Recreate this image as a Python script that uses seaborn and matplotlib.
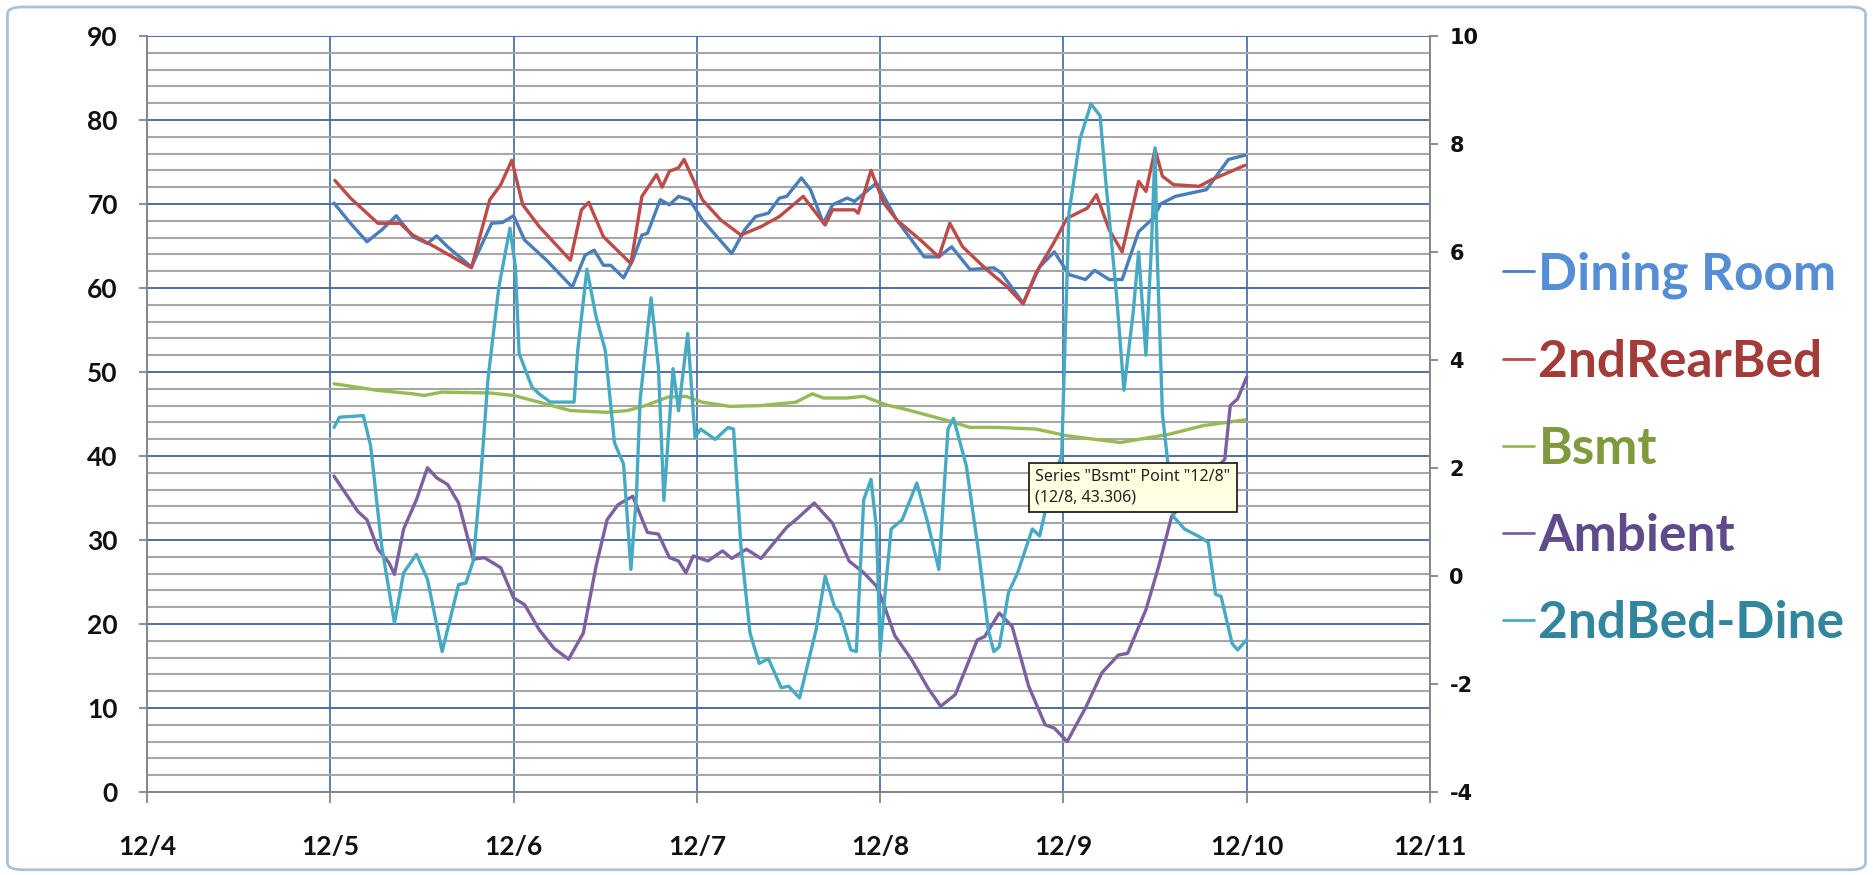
import numpy as np
import pandas as pd
import matplotlib
matplotlib.use("Agg")
import matplotlib.pyplot as plt
from matplotlib.patches import FancyBboxPatch
import seaborn as sns

# ---------------- data (x = day of December) ----------------
series_names = ["Dining Room", "2ndRearBed", "Bsmt", "Ambient", "2ndBed-Dine"]
x_tick_days = [4, 5, 6, 7, 8, 9, 10, 11]
x_tick_labels = ["12/4", "12/5", "12/6", "12/7", "12/8", "12/9", "12/10", "12/11"]
left_ticks = [0, 10, 20, 30, 40, 50, 60, 70, 80, 90]
left_tick_labels = ["0", "10", "20", "30", "40", "50", "60", "70", "80", "90"]
right_ticks = [-4, -2, 0, 2, 4, 6, 8, 10]
right_tick_labels = ["-4", "-2", "0", "2", "4", "6", "8", "10"]

dining_day = [5.02, 5.11, 5.20, 5.28, 5.36, 5.45, 5.53, 5.58, 5.64, 5.77, 5.88, 5.94, 6.00,
              6.06, 6.18, 6.32, 6.39, 6.44, 6.49, 6.53, 6.60, 6.65, 6.70, 6.73, 6.80, 6.85,
              6.90, 6.96, 7.03, 7.19, 7.26, 7.32, 7.39, 7.45, 7.49, 7.57, 7.62, 7.69, 7.74,
              7.82, 7.86, 7.98, 8.09, 8.24, 8.32, 8.39, 8.49, 8.62, 8.66, 8.78, 8.87, 8.95,
              9.03, 9.12, 9.17, 9.25, 9.32, 9.41, 9.49, 9.53, 9.61, 9.78, 9.90, 9.99]
dining_temp = [70.1, 67.7, 65.5, 66.9, 68.6, 66.1, 65.3, 66.2, 64.9, 62.5, 67.7, 67.8, 68.6,
               65.7, 63.3, 60.1, 63.9, 64.5, 62.7, 62.7, 61.2, 63.3, 66.3, 66.5, 70.5, 69.9,
               70.9, 70.5, 68.1, 64.1, 66.9, 68.5, 68.9, 70.7, 70.9, 73.1, 71.7, 67.7, 69.9,
               70.7, 70.3, 72.5, 68.1, 63.7, 63.7, 64.9, 62.2, 62.4, 61.8, 58.2, 62.5, 64.3,
               61.6, 61.0, 62.1, 61.0, 61.0, 66.7, 68.3, 70.0, 70.9, 71.7, 75.3, 75.8]

rearbed_day = [5.025, 5.11, 5.26, 5.38, 5.45, 5.57, 5.77, 5.87, 5.93, 5.99, 6.05, 6.14, 6.31,
               6.37, 6.41, 6.49, 6.64, 6.70, 6.78, 6.81, 6.85, 6.90, 6.93, 7.03, 7.13, 7.24,
               7.35, 7.45, 7.58, 7.70, 7.74, 7.86, 7.88, 7.95, 8.02, 8.09, 8.22, 8.32, 8.38,
               8.45, 8.58, 8.69, 8.78, 8.85, 8.94, 9.02, 9.13, 9.18, 9.25, 9.32, 9.41, 9.45,
               9.50, 9.54, 9.60, 9.74, 9.81, 9.99]
rearbed_temp = [72.8, 70.7, 67.7, 67.7, 66.3, 64.9, 62.4, 70.5, 72.3, 75.2, 69.9, 67.3, 63.3,
                69.3, 70.2, 66.1, 62.9, 70.9, 73.5, 72.0, 73.9, 74.3, 75.3, 70.5, 68.1, 66.3,
                67.3, 68.5, 70.9, 67.5, 69.3, 69.3, 68.9, 74.0, 70.1, 68.1, 65.7, 63.7, 67.7,
                64.9, 62.2, 60.2, 58.1, 61.8, 65.1, 68.3, 69.5, 71.1, 66.9, 64.3, 72.7, 71.5,
                76.5, 73.3, 72.3, 72.1, 72.9, 74.6]

bsmt_day = [5.02, 5.26, 5.45, 5.51, 5.61, 5.87, 6.00, 6.14, 6.31, 6.51, 6.62, 6.72, 6.84,
            6.94, 7.03, 7.18, 7.35, 7.54, 7.63, 7.69, 7.82, 7.91, 8.03, 8.13, 8.37, 8.49,
            8.64, 8.85, 9.02, 9.31, 9.58, 9.76, 9.99]
bsmt_temp = [48.6, 47.8, 47.4, 47.2, 47.6, 47.5, 47.2, 46.4, 45.4, 45.2, 45.4, 46.0, 47.0,
             47.1, 46.4, 45.9, 46.0, 46.4, 47.4, 46.9, 46.9, 47.1, 46.1, 45.6, 44.2, 43.4,
             43.4, 43.2, 42.4, 41.6, 42.6, 43.6, 44.3]

ambient_day = [5.02, 5.15, 5.20, 5.26, 5.32, 5.35, 5.40, 5.47, 5.53, 5.58, 5.64, 5.70, 5.78,
               5.84, 5.93, 6.00, 6.06, 6.14, 6.22, 6.30, 6.38, 6.45, 6.51, 6.57, 6.65, 6.73,
               6.79, 6.85, 6.90, 6.94, 6.98, 7.06, 7.14, 7.19, 7.27, 7.35, 7.49, 7.55, 7.64,
               7.74, 7.83, 7.91, 7.98, 8.01, 8.08, 8.17, 8.26, 8.33, 8.41, 8.53, 8.57, 8.65,
               8.72, 8.81, 8.90, 8.95, 9.02, 9.12, 9.21, 9.30, 9.35, 9.45, 9.52, 9.59, 9.70,
               9.80, 9.88, 9.91, 9.95, 10.0]
ambient_temp = [37.6, 33.4, 32.4, 28.9, 27.3, 25.9, 31.3, 34.8, 38.6, 37.4, 36.6, 34.4, 27.7,
                27.9, 26.7, 23.1, 22.3, 19.3, 17.1, 15.8, 18.9, 26.9, 32.4, 34.2, 35.2, 30.9,
                30.7, 27.9, 27.5, 26.1, 28.1, 27.5, 28.7, 27.8, 28.9, 27.8, 31.5, 32.6, 34.4,
                32.0, 27.5, 26.1, 24.5, 22.9, 18.6, 15.8, 12.4, 10.2, 11.6, 18.1, 18.5, 21.3,
                19.7, 12.6, 8.0, 7.6, 6.0, 10.0, 14.2, 16.3, 16.5, 21.7, 26.9, 32.8, 35.5,
                37.8, 39.6, 46.0, 46.8, 49.4]

# 2ndBed-Dine on the secondary axis (-4 .. 10)
diff_day = [5.02, 5.05, 5.18, 5.22, 5.28, 5.35, 5.40, 5.47, 5.53, 5.61, 5.70, 5.74, 5.78,
            5.82, 5.86, 5.92, 5.98, 6.01, 6.03, 6.10, 6.14, 6.20, 6.33, 6.35, 6.40, 6.45,
            6.50, 6.55, 6.60, 6.64, 6.67, 6.69, 6.75, 6.79, 6.82, 6.87, 6.90, 6.95, 6.99,
            7.02, 7.10, 7.17, 7.20, 7.24, 7.29, 7.34, 7.39, 7.46, 7.50, 7.56, 7.65, 7.70,
            7.75, 7.78, 7.84, 7.87, 7.91, 7.95, 7.98, 8.00, 8.03, 8.06, 8.12, 8.20, 8.26,
            8.32, 8.37, 8.40, 8.47, 8.54, 8.59, 8.62, 8.65, 8.70, 8.75, 8.83, 8.87, 8.94,
            8.99, 9.03, 9.09, 9.15, 9.20, 9.23, 9.29, 9.33, 9.38, 9.41, 9.45, 9.48, 9.50,
            9.51, 9.54, 9.58, 9.60, 9.66, 9.75, 9.79, 9.83, 9.86, 9.92, 9.95, 10.0]
diff_val = [2.75, 2.94, 2.97, 2.41, 0.56, -0.87, 0.06, 0.40, -0.06, -1.40, -0.16, -0.13, 0.28,
            1.79, 3.64, 5.36, 6.44, 5.72, 4.12, 3.50, 3.37, 3.22, 3.22, 4.18, 5.68, 4.80,
            4.18, 2.47, 2.07, 0.12, 1.48, 3.25, 5.15, 3.87, 1.40, 3.84, 3.06, 4.49, 2.56,
            2.72, 2.53, 2.75, 2.72, 0.56, -1.06, -1.62, -1.53, -2.07, -2.04, -2.26, -1.00, 0.00,
            -0.56, -0.69, -1.37, -1.40, 1.41, 1.79, 0.87, -1.40, -0.19, 0.87, 1.04, 1.72, 0.98,
            0.12, 2.72, 2.92, 2.04, 0.37, -1.00, -1.40, -1.31, -0.31, 0.06, 0.87, 0.74, 1.79,
            2.22, 6.72, 8.09, 8.74, 8.52, 7.34, 5.18, 3.44, 4.87, 6.00, 4.09, 6.10, 7.93,
            6.10, 3.00, 1.77, 1.10, 0.87, 0.71, 0.62, -0.34, -0.38, -1.25, -1.37, -1.18]

line_colors = ["#4A7EBB", "#BE4B48", "#98B954", "#7D60A0", "#46AAC5"]
text_colors = ["#558ED5", "#A33B39", "#7F9A3C", "#5F4B8B", "#31859C"]

tooltip_text = 'Series "Bsmt" Point "12/8"\n(12/8, 43.306)'

# ---------------- figure ----------------
sns.set_theme(style="white")
plt.rcParams["font.family"] = ["Lato", "DejaVu Sans"]
plt.rcParams["axes.unicode_minus"] = False

fig = plt.figure(figsize=(18.73, 8.75), dpi=100)
fig.patch.set_facecolor("white")
ax = fig.add_axes([0.0785, 0.0949, 0.685, 0.864])
ax.set_axisbelow(True)

left_df = pd.concat([
    pd.DataFrame({"day": dining_day, "temp": dining_temp, "series": series_names[0]}),
    pd.DataFrame({"day": rearbed_day, "temp": rearbed_temp, "series": series_names[1]}),
    pd.DataFrame({"day": bsmt_day, "temp": bsmt_temp, "series": series_names[2]}),
    pd.DataFrame({"day": ambient_day, "temp": ambient_temp, "series": series_names[3]}),
], ignore_index=True)

sns.lineplot(data=left_df, x="day", y="temp", hue="series", hue_order=series_names[:4],
             palette=line_colors[:4], estimator=None, linewidth=2.4, ax=ax, legend=False)
for ln in ax.lines:
    ln.set_solid_joinstyle("round")

ax.set_xlim(4, 11)
ax.set_ylim(0, 90)
ax.set_xticks(x_tick_days)
ax.set_xticklabels(x_tick_labels, fontweight="bold", fontsize=19, color="#111111")
ax.set_yticks(left_ticks)
ax.set_yticklabels(left_tick_labels, fontweight="bold", fontsize=19, color="#111111")
ax.set_yticks(np.arange(0, 91, 2), minor=True)
ax.set_xlabel("")
ax.set_ylabel("")

ax.grid(True, which="major", axis="y", color="#4E6FA6", linewidth=1.4)
ax.grid(True, which="minor", axis="y", color="#A6A6A6", linewidth=1.5)
ax.grid(True, which="major", axis="x", color="#4A72B0", linewidth=1.3)

for side in ["left", "bottom"]:
    ax.spines[side].set_color("#868686")
    ax.spines[side].set_linewidth(1.4)
ax.spines["top"].set_visible(False)
ax.spines["right"].set_visible(False)

ax.tick_params(axis="y", which="major", direction="out", length=6, width=1.3, color="#868686",
               pad=15, left=True)
ax.tick_params(axis="y", which="minor", length=0, left=False)
ax.tick_params(axis="x", which="major", direction="out", length=8, width=1.3, color="#868686",
               pad=23, bottom=True)

# secondary axis
ax2 = ax.twinx()
diff_df = pd.DataFrame({"day": diff_day, "diff": diff_val})
sns.lineplot(data=diff_df, x="day", y="diff", color=line_colors[4], estimator=None,
             linewidth=2.4, ax=ax2, legend=False)
for ln in ax2.lines:
    ln.set_solid_joinstyle("round")
ax2.set_ylim(-4, 10)
ax2.set_yticks(right_ticks)
ax2.set_yticklabels(right_tick_labels, fontweight="bold", fontsize=15,
                    family=["DejaVu Sans"], color="#111111")
ax2.set_ylabel("")
ax2.grid(False)
for side in ["left", "top", "bottom"]:
    ax2.spines[side].set_visible(False)
ax2.spines["right"].set_color("#868686")
ax2.spines["right"].set_linewidth(1.4)
ax2.tick_params(axis="y", direction="out", length=6, width=1.3, color="#868686", pad=8,
                right=True)

# legend
handles = list(ax.lines[:4]) + [ax2.lines[0]]
leg = fig.legend(handles, series_names, loc="upper left", bbox_to_anchor=(0.789, 0.742),
                 frameon=False, prop={"family": "Lato", "weight": "bold", "size": 37},
                 handlelength=0.6, handletextpad=0.08, labelspacing=0.78, borderpad=0)
for txt, c in zip(leg.get_texts(), text_colors):
    txt.set_color(c)
for lh in leg.get_lines():
    lh.set_linewidth(2.0)

# tooltip
fig.text(1035 / 1873, 1 - 469 / 875, tooltip_text, ha="left", va="top",
         fontsize=11.5, family=["Noto Sans", "DejaVu Sans"], color="#222222", linespacing=1.4,
         bbox=dict(boxstyle="square,pad=0.4", facecolor="#FFFFE1", edgecolor="#222222",
                   linewidth=1.3), zorder=10)

# chart-area border
border = FancyBboxPatch((0.004, 0.006), 0.992, 0.986, boxstyle="round,pad=0,rounding_size=0.008",
                        transform=fig.transFigure, facecolor="none", edgecolor="#A9C2D9",
                        linewidth=2.0, zorder=0)
fig.patches.append(border)

fig.savefig("out.png", dpi=100, facecolor="white")
